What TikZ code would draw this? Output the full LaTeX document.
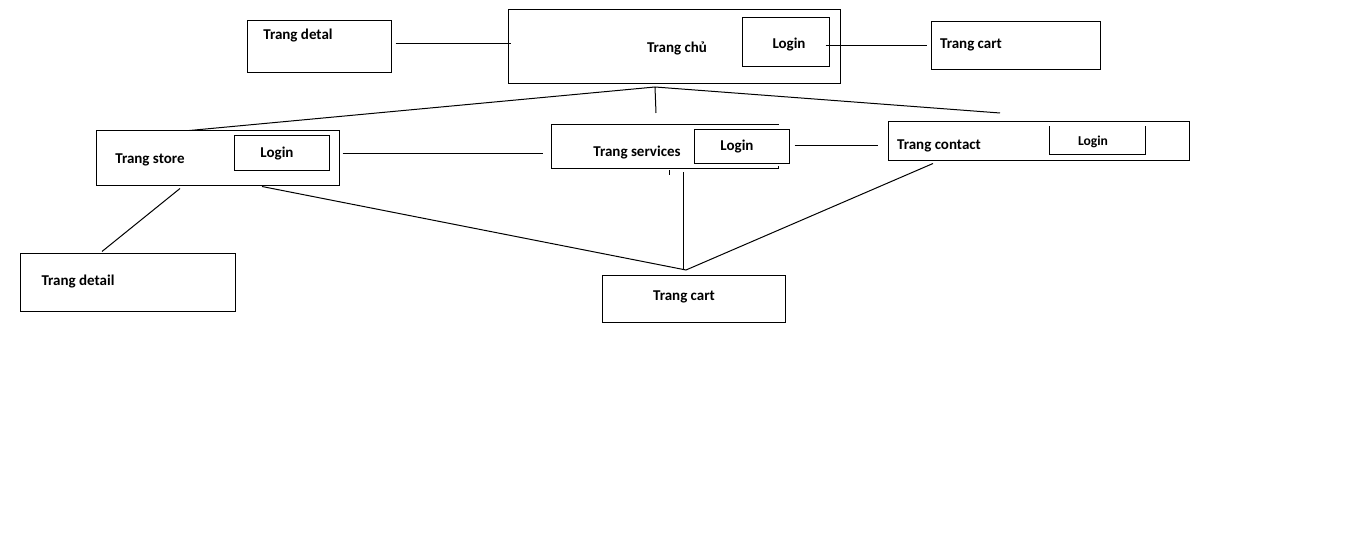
\documentclass[tikz,border=0pt]{standalone}
\usepackage{fontspec}
\setmainfont{Carlito}
\usepackage{tikz}

\begin{document}
\begin{tikzpicture}[x=0.5pt,y=-0.5pt,line width=0.5pt,
  box/.style={draw, rectangle, inner sep=0pt},
  frame/.style={rectangle, inner sep=0pt},
  lbl/.style={inner sep=0pt, anchor=mid, yshift=-0.5pt, font=\fontsize{7.5}{9}\selectfont\bfseries}]
  \useasboundingbox (0,0) rectangle (1360,560);
  % boxes
  \node[box, minimum width=72pt, minimum height=26pt] (detal) at (319,47) {};
  \node[box, minimum width=166pt, minimum height=37pt] (chu) at (674,47) {};
  \node[box, minimum width=43.5pt, minimum height=24.5pt] (chulogin) at (785.5,42.5) {};
  \node[box, minimum width=84.5pt, minimum height=24pt] (carttop) at (1015.5,46) {};
  \node[box, minimum width=121.5pt, minimum height=27.5pt] (store) at (217.5,158.5) {};
  \node[box, minimum width=47.5pt, minimum height=17.5pt] (storelogin) at (281.5,153.5) {};
  \node[frame, minimum width=113pt, minimum height=21.5pt] (services) at (665,146.5) {};
  \node[box, minimum width=47.5pt, minimum height=17pt] (serviceslogin) at (741.5,147) {};
  \node[box, minimum width=150.5pt, minimum height=19.5pt] (contact) at (1038.5,141.5) {};
  \node[frame, minimum width=47.5pt, minimum height=13.5pt] (contactlogin) at (1097.5,140.5) {};
  \node[box, minimum width=107.5pt, minimum height=29pt] (detail) at (127.5,283) {};
  \node[box, minimum width=91.5pt, minimum height=23.5pt] (cartbot) at (693.5,299.5) {};
  \draw (services.north east) -- (services.north west) -- (services.south west)
    -- (services.south east) -- ++(0,-2);
  \draw (contactlogin.north west) -- (contactlogin.south west)
    -- (contactlogin.south east) -- (contactlogin.north east);
  % labels
  \node[lbl] (tdetal) at (298,34) {Trang detal};
  \node[lbl] (tchu) at (677,47) {Trang chủ};
  \node[lbl] (tchulogin) at (789,43) {Login};
  \node[lbl] (tcarttop) at (971,43) {Trang cart};
  \node[lbl] (tstore) at (150,158) {Trang store};
  \node[lbl] (tstorelogin) at (277,152) {Login};
  \node[lbl] (tservices) at (637,151) {Trang services};
  \node[lbl] (tserviceslogin) at (737,145) {Login};
  \node[lbl] (tcontact) at (939,144) {Trang contact};
  \node[lbl, font=\fontsize{6.8}{8}\selectfont\bfseries] (tcontactlogin) at (1093,140) {Login};
  \node[lbl] (tdetail) at (78,280) {Trang detail};
  \node[lbl] (tcartbot) at (684,295) {Trang cart};
  % connectors
  \coordinate (apex) at (655,87);
  \coordinate (drop) at (656,113);
  \coordinate (tip) at (1000,113);
  \coordinate (meet) at (686,270);
  \draw ([xshift=2pt,yshift=1.5pt]detal.east) -- ([xshift=1.5pt,yshift=1.5pt]chu.west);
  \draw ([xshift=-2pt,yshift=-1.75pt]chulogin.east) -- ([xshift=-2pt]carttop.west);
  \draw ([xshift=-14pt]store.north) -- (apex) -- (tip)
    (apex) -- (drop);
  \draw ([xshift=6.5pt,yshift=-0.25pt]storelogin.east) -- ([xshift=-4.5pt,yshift=-3.75pt]services.west);
  \draw ([xshift=2.5pt,yshift=0.5pt]serviceslogin.east) -- ([xshift=-5pt,yshift=-2.25pt]contact.west);
  \draw ([xshift=-18.75pt,yshift=-1pt]store.south) -- ([xshift=-12.75pt,yshift=1pt]detail.north);
  \draw ([xshift=22.25pt]store.south) -- (meet)
    -- ([xshift=-52.75pt,yshift=-1pt]contact.south);
  \draw ([xshift=9pt,yshift=-2pt]services.south) -- ([xshift=9pt]services.south |- meet);
  \draw ([xshift=2pt,yshift=-1pt]services.south) -- ++(0,5);
\end{tikzpicture}
\end{document}
